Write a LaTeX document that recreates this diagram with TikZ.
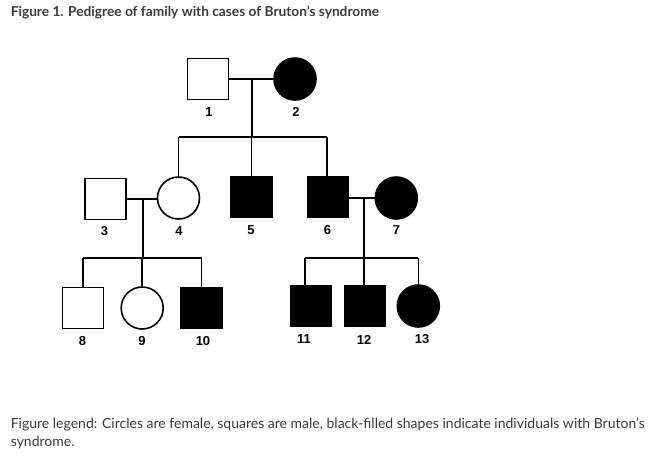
\documentclass[tikz,border=0pt]{standalone}
\usepackage{fontspec}
\setmainfont{Lato}
\newfontfamily\numfont{Liberation Sans}
\definecolor{txtgray}{HTML}{3A3A3A}
\begin{document}
\begin{tikzpicture}[x=1pt,y=-1pt,
  line width=1.6pt,
  male/.style={draw=black,fill=white,rectangle,minimum size=41pt,inner sep=0pt},
  female/.style={draw=black,fill=white,circle,minimum size=42pt,inner sep=0pt},
  aff/.style={fill=black},
  lab/.style={font=\numfont\bfseries\fontsize{13}{15}\selectfont,inner sep=0pt},
  link/.style={draw=black,line width=1.6pt}]
\useasboundingbox[fill=white] (0,0) rectangle (657,456);
% title
\node[anchor=west,inner sep=0pt,text=txtgray,font=\bfseries\fontsize{13.7}{15}\selectfont] (title) at (10,12.5) {Figure 1. Pedigree of family with cases of Bruton’s syndrome};
% generation 1
\node[male] (p1) at (208,79) {};
\node[female,aff] (p2) at (295,79) {};
% generation 2
\node[male] (p3) at (105.5,199) {};
\node[female] (p4) at (178.5,198) {};
\node[male,aff] (p5) at (251.5,197) {};
\node[male,aff] (p6) at (328,197) {};
\node[female,aff] (p7) at (396.3,198) {};
% generation 3
\node[male] (p8) at (83,308) {};
\node[female] (p9) at (142.2,308) {};
\node[male,aff] (p10) at (201.3,308) {};
\node[male,aff] (p11) at (311,306) {};
\node[male,aff] (p12) at (365,306) {};
\node[female,aff] (p13) at (418.3,306) {};
% labels
\node[lab] (l1) at (209,112) {1};
\node[lab] (l2) at (296,112) {2};
\node[lab] (l3) at (104.5,231.5) {3};
\node[lab] (l4) at (179,231.5) {4};
\node[lab] (l5) at (251,230.5) {5};
\node[lab] (l6) at (327.5,230) {6};
\node[lab] (l7) at (396.5,230) {7};
\node[lab] (l8) at (82.5,341.5) {8};
\node[lab] (l9) at (142,341.5) {9};
\node[lab] (l10) at (203,341.5) {10};
\node[lab] (l11) at (304,339.5) {11};
\node[lab] (l12) at (364,339.5) {12};
\node[lab] (l13) at (422,339.5) {13};
% junction coordinates
\coordinate (m12) at (251.7,79);
\coordinate (s1) at (251.7,137);
\coordinate (s1l) at (178.5,137);
\coordinate (s1m) at (251.5,137);
\coordinate (s1r) at (326.7,137);
\coordinate (m34) at (142.7,199);
\coordinate (s2) at (142.7,258);
\coordinate (s2l) at (83,258);
\coordinate (s2m) at (142.2,258);
\coordinate (s2r) at (201.5,258);
\coordinate (m67) at (363.7,198);
\coordinate (s3) at (363.7,258);
\coordinate (s3l) at (305,258);
\coordinate (s3m) at (364,258);
\coordinate (s3r) at (418.3,258);
% connectors
\draw[link] (p1.east) -- (p2.west);
\draw[link] (m12) -- (s1);
\draw[link] (s1l) -- (s1r);
\draw[link] (s1l) -- (p4.north);
\draw[link] (s1m) -- (p5.north);
\draw[link] (s1r) -- (s1r |- p6.north);
\draw[link] (p3.east) -- (p3.east -| p4.west);
\draw[link] (m34) -- (s2);
\draw[link] (s2l) -- (s2r);
\draw[link] (s2l) -- (p8.north);
\draw[link] (s2m) -- (p9.north);
\draw[link] (s2r) -- (s2r |- p10.north);
\draw[link] (p6.east |- m67) -- (p7.west);
\draw[link] (m67) -- (s3);
\draw[link] (s3l) -- (s3r);
\draw[link] (s3l) -- (s3l |- p11.north);
\draw[link] (s3m) -- (s3m |- p12.north);
\draw[link] (s3r) -- (p13.north);
% legend
\node[anchor=west,inner sep=0pt,text=txtgray,font=\fontsize{14}{16}\selectfont] (leg1) at (10,424) {Figure legend: Circles are female, squares are male, black-filled shapes indicate individuals with Bruton’s};
\node[anchor=west,inner sep=0pt,text=txtgray,font=\fontsize{14}{16}\selectfont] (leg2) at (10,443) {syndrome.};
\end{tikzpicture}
\end{document}
